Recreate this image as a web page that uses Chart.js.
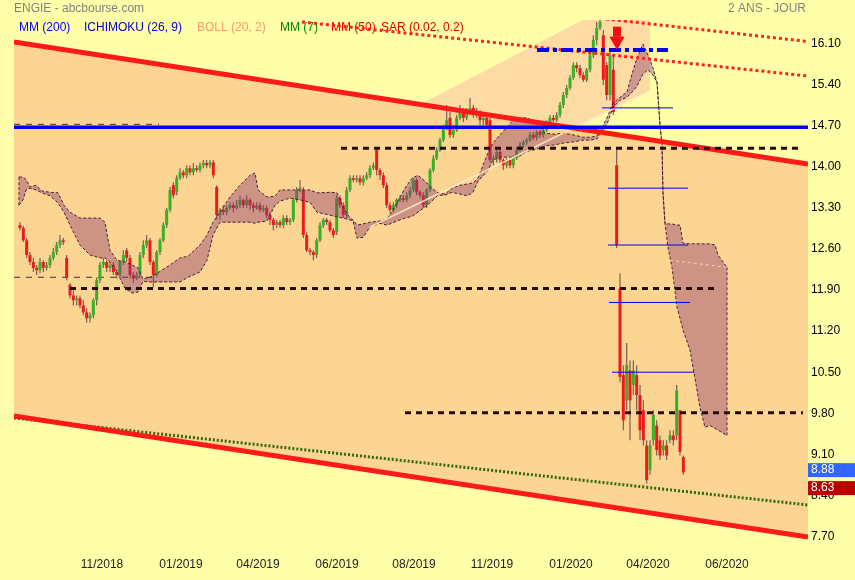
<!DOCTYPE html>
<html>
<head>
<meta charset="utf-8">
<script src="https://cdn.jsdelivr.net/npm/chart.js@4.4.1/dist/chart.umd.min.js"></script>
<style>
  body { margin: 0; background: #ffffaa; }
</style>
</head>
<body>
<canvas id="myChart" width="855" height="580"></canvas>
<script>
// ENGIE daily candles, 2 years, with ichimoku cloud and hand drawn trend lines

const opens = [
  13.01, 12.96, 12.75, 12.50, 12.38, 12.28, 12.24, 12.38, 12.28, 12.33,
  12.45, 12.55, 12.67, 12.75, 12.45, 11.99, 11.81, 11.73, 11.76, 11.64,
  11.52, 11.42, 11.47, 11.73, 12.07, 12.33, 12.38, 12.28, 12.33, 12.21,
  12.16, 12.38, 12.58, 12.45, 12.16, 12.10, 12.16, 12.50, 12.67, 12.75,
  12.38, 12.16, 12.55, 12.75, 13.01, 13.27, 13.69, 13.57, 13.81, 13.91,
  13.86, 13.98, 13.91, 13.98, 13.95, 14.03, 14.07, 14.03, 14.08, 13.66,
  13.18, 13.27, 13.23, 13.30, 13.35, 13.30, 13.35, 13.44, 13.35, 13.44,
  13.35, 13.30, 13.35, 13.27, 13.30, 13.18, 13.10, 13.01, 13.06, 13.01,
  13.13, 13.06, 13.10, 13.44, 13.61, 13.61, 12.84, 12.58, 12.55, 12.50,
  12.75, 13.01, 13.10, 13.06, 12.92, 12.89, 13.47, 13.35, 13.18, 13.61,
  13.81, 13.78, 13.81, 13.74, 13.81, 13.86, 13.98, 14.29, 13.95, 13.86,
  13.69, 13.35, 13.27, 13.35, 13.44, 13.47, 13.44, 13.52, 13.61, 13.78,
  13.57, 13.52, 13.35, 13.61, 13.95, 14.15, 14.29, 14.46, 14.67, 14.84,
  14.55, 14.63, 14.84, 14.97, 14.84, 14.94, 15.01, 14.89, 14.94, 14.80,
  14.84, 14.80, 14.12, 14.15, 14.26, 14.12, 14.03, 14.12, 14.03, 14.15,
  14.29, 14.38, 14.43, 14.46, 14.55, 14.50, 14.60, 14.55, 14.63, 14.77,
  14.84, 14.80, 14.89, 15.06, 15.23, 15.35, 15.52, 15.74, 15.69, 15.57,
  15.49, 15.66, 15.91, 16.17, 16.37, 16.25, 15.74, 15.23, 15.66, 14.03,
  11.93, 10.45, 10.02, 10.53, 10.28, 10.45, 10.11, 9.85, 9.25, 8.83,
  9.34, 9.59, 9.34, 9.17, 9.25, 9.34, 9.42, 9.42, 9.85, 9.05
];
const highs = [
  13.06, 13.00, 12.79, 12.55, 12.45, 12.33, 12.45, 12.41, 12.38, 12.50,
  12.62, 12.72, 12.84, 12.79, 12.50, 12.02, 11.90, 11.81, 11.81, 11.73,
  11.59, 11.52, 11.76, 12.12, 12.38, 12.45, 12.41, 12.38, 12.38, 12.24,
  12.41, 12.58, 12.62, 12.50, 12.21, 12.21, 12.55, 12.75, 12.84, 12.79,
  12.41, 12.58, 12.79, 13.06, 13.30, 13.66, 13.74, 13.86, 13.98, 13.95,
  14.03, 14.03, 14.07, 14.03, 14.08, 14.12, 14.12, 14.12, 14.12, 13.69,
  13.30, 13.35, 13.35, 13.40, 13.40, 13.44, 13.52, 13.47, 13.52, 13.47,
  13.40, 13.40, 13.40, 13.35, 13.35, 13.23, 13.13, 13.10, 13.10, 13.18,
  13.18, 13.13, 13.47, 13.66, 13.78, 13.66, 12.89, 12.62, 12.58, 12.79,
  13.06, 13.13, 13.13, 13.10, 12.96, 13.52, 13.52, 13.40, 13.66, 13.86,
  13.86, 13.86, 13.86, 13.86, 13.91, 14.03, 14.08, 14.34, 13.98, 13.91,
  13.74, 13.40, 13.40, 13.47, 13.52, 13.52, 13.57, 13.66, 13.81, 13.81,
  13.61, 13.57, 13.64, 13.98, 14.20, 14.34, 14.50, 14.72, 15.06, 14.94,
  14.72, 14.89, 15.06, 15.01, 15.01, 15.18, 15.06, 15.01, 14.97, 14.94,
  14.89, 14.84, 14.20, 14.29, 14.29, 14.15, 14.15, 14.15, 14.20, 14.34,
  14.43, 14.46, 14.50, 14.60, 14.60, 14.63, 14.63, 14.67, 14.80, 14.89,
  14.89, 14.94, 15.11, 15.28, 15.40, 15.57, 15.79, 15.79, 15.74, 15.62,
  15.69, 15.96, 16.25, 16.48, 16.60, 16.34, 15.79, 15.96, 15.91, 14.34,
  12.19, 10.62, 11.00, 10.70, 10.70, 10.62, 10.28, 10.02, 9.34, 9.34,
  9.85, 9.68, 9.42, 9.34, 9.34, 9.51, 9.51, 10.28, 9.85, 9.08
];
const lows = [
  12.92, 12.72, 12.45, 12.33, 12.21, 12.16, 12.19, 12.21, 12.24, 12.28,
  12.41, 12.50, 12.62, 12.67, 12.07, 11.76, 11.64, 11.64, 11.59, 11.47,
  11.35, 11.35, 11.42, 11.64, 12.02, 12.28, 12.21, 12.21, 12.16, 12.10,
  12.12, 12.33, 12.38, 12.10, 12.02, 12.07, 12.12, 12.45, 12.62, 12.33,
  11.95, 12.12, 12.50, 12.72, 12.96, 13.23, 13.47, 13.52, 13.78, 13.81,
  13.81, 13.86, 13.86, 13.91, 13.91, 13.98, 13.98, 13.98, 13.81, 13.10,
  13.10, 13.18, 13.18, 13.27, 13.23, 13.27, 13.30, 13.30, 13.30, 13.27,
  13.23, 13.27, 13.23, 13.23, 13.13, 13.01, 12.92, 12.96, 12.96, 12.96,
  13.01, 13.01, 13.06, 13.40, 13.57, 12.79, 12.55, 12.50, 12.41, 12.45,
  12.72, 12.96, 13.01, 12.89, 12.79, 12.84, 13.30, 13.13, 13.13, 13.57,
  13.74, 13.74, 13.69, 13.69, 13.78, 13.81, 13.95, 13.86, 13.78, 13.64,
  13.30, 13.23, 13.23, 13.30, 13.40, 13.40, 13.40, 13.47, 13.57, 13.52,
  13.47, 13.30, 13.30, 13.57, 13.91, 14.12, 14.26, 14.43, 14.63, 14.50,
  14.50, 14.60, 14.80, 14.77, 14.80, 14.89, 14.84, 14.84, 14.72, 14.72,
  14.67, 14.08, 14.03, 14.08, 14.07, 13.95, 13.98, 13.98, 13.98, 14.12,
  14.26, 14.34, 14.38, 14.43, 14.46, 14.46, 14.50, 14.50, 14.60, 14.72,
  14.77, 14.77, 14.84, 15.01, 15.18, 15.31, 15.49, 15.62, 15.52, 15.45,
  15.45, 15.62, 15.86, 16.08, 16.34, 15.40, 15.14, 15.14, 14.89, 12.62,
  10.33, 9.51, 9.85, 9.34, 10.11, 9.85, 9.34, 9.25, 8.60, 8.75,
  9.25, 9.08, 9.00, 9.08, 9.00, 9.29, 9.25, 9.34, 9.08, 8.75
];
const closes = [
  12.96, 12.75, 12.50, 12.38, 12.28, 12.24, 12.38, 12.28, 12.33, 12.45,
  12.55, 12.67, 12.75, 12.72, 12.12, 11.81, 11.73, 11.76, 11.64, 11.52,
  11.42, 11.47, 11.73, 12.07, 12.33, 12.38, 12.28, 12.33, 12.21, 12.16,
  12.38, 12.50, 12.45, 12.16, 12.10, 12.16, 12.50, 12.67, 12.75, 12.38,
  12.16, 12.55, 12.75, 13.01, 13.27, 13.61, 13.52, 13.81, 13.91, 13.86,
  13.98, 13.91, 13.98, 13.95, 14.03, 14.07, 14.03, 14.08, 13.86, 13.18,
  13.27, 13.23, 13.30, 13.35, 13.30, 13.35, 13.44, 13.35, 13.44, 13.35,
  13.30, 13.35, 13.27, 13.30, 13.18, 13.10, 13.01, 13.06, 13.01, 13.13,
  13.06, 13.10, 13.44, 13.61, 13.64, 12.84, 12.58, 12.55, 12.50, 12.75,
  13.01, 13.10, 13.06, 12.92, 12.84, 13.47, 13.35, 13.18, 13.61, 13.81,
  13.78, 13.81, 13.74, 13.81, 13.86, 13.98, 14.03, 13.95, 13.86, 13.69,
  13.35, 13.27, 13.35, 13.44, 13.47, 13.44, 13.52, 13.61, 13.78, 13.57,
  13.52, 13.35, 13.61, 13.95, 14.15, 14.29, 14.46, 14.67, 14.80, 14.55,
  14.63, 14.84, 14.97, 14.84, 14.94, 15.01, 14.89, 14.94, 14.80, 14.84,
  14.72, 14.12, 14.15, 14.26, 14.12, 14.03, 14.12, 14.03, 14.15, 14.29,
  14.38, 14.43, 14.46, 14.55, 14.50, 14.60, 14.55, 14.63, 14.77, 14.84,
  14.80, 14.89, 15.06, 15.23, 15.35, 15.52, 15.74, 15.69, 15.57, 15.49,
  15.66, 15.91, 16.17, 16.37, 16.48, 15.49, 15.23, 15.91, 14.94, 12.67,
  10.42, 9.68, 10.62, 10.02, 10.53, 10.11, 9.51, 9.34, 8.66, 9.25,
  9.77, 9.17, 9.08, 9.25, 9.08, 9.42, 9.34, 10.19, 9.14, 8.79
];

// ichimoku cloud (senkou spans), x in candle units, projected 26 days ahead
const cloudX = [
  -0.3, 0.9, 1.8, 3.0, 4.8, 6.6, 9.0, 11.4, 13.2, 15.0,
  18.0, 21.0, 24.0, 25.5, 27.0, 29.1, 31.5, 33.6, 35.4, 36.9,
  39.0, 42.0, 45.0, 48.0, 50.4, 54.0, 56.1, 57.9, 60.0, 63.0,
  66.0, 69.0, 70.5, 71.4, 74.1, 76.5, 78.0, 81.0, 84.0, 87.0,
  89.1, 93.0, 95.1, 96.9, 99.0, 99.9, 101.1, 102.9, 105.0, 108.0,
  110.1, 113.1, 115.5, 117.6, 119.4, 121.5, 123.6, 125.4, 127.5, 129.6,
  132.0, 134.1, 135.9, 137.4, 138.9, 140.4, 141.9, 144.0, 146.1, 147.9,
  150.0, 152.1, 153.9, 156.0, 157.5, 160.5, 162.9, 165.9, 168.9, 171.0,
  173.1, 174.6, 176.1, 177.9, 180.0, 182.1, 183.6, 185.1, 186.9, 188.4,
  189.9, 191.1, 192.0, 192.6, 192.9, 193.5, 194.4, 195.6, 197.1, 198.0,
  198.9, 201.0, 204.0, 205.5, 207.0, 208.5, 209.4, 210.9, 212.1
];
const cloudTop = [
  13.83, 13.83, 13.79, 13.66, 13.69, 13.59, 13.57, 13.56, 13.35, 13.23,
  13.13, 13.13, 13.13, 13.06, 12.58, 12.41, 12.38, 12.33, 12.28, 12.09,
  12.12, 12.22, 12.33, 12.45, 12.48, 12.67, 12.84, 13.06, 13.23, 13.49,
  13.69, 13.86, 13.90, 13.61, 13.49, 13.50, 13.61, 13.61, 13.61, 13.61,
  13.56, 13.57, 13.56, 13.32, 13.13, 13.10, 13.01, 13.03, 13.06, 13.08,
  13.11, 13.39, 13.64, 13.81, 13.86, 13.76, 13.64, 13.56, 13.54, 13.64,
  13.69, 13.71, 13.73, 13.81, 14.03, 14.24, 14.41, 14.55, 14.68, 14.80,
  14.84, 14.84, 14.79, 14.68, 14.58, 14.56, 14.58, 14.55, 14.51, 14.51,
  14.53, 14.68, 14.84, 15.09, 15.19, 15.28, 15.59, 15.86, 16.10, 15.91,
  15.69, 15.45, 14.72, 14.38, 13.56, 13.04, 13.03, 13.03, 13.01, 13.01,
  12.70, 12.69, 12.69, 12.69, 12.69, 12.67, 12.50, 12.38, 12.29
];
const cloudBottom = [
  13.35, 13.44, 13.61, 13.64, 13.61, 13.56, 13.51, 13.39, 13.23, 13.01,
  12.67, 12.50, 12.45, 12.45, 12.38, 12.21, 11.93, 11.85, 11.87, 12.05,
  12.04, 12.04, 12.04, 12.04, 12.12, 12.21, 12.41, 12.84, 13.06, 13.06,
  13.06, 13.06, 13.04, 13.06, 13.08, 13.35, 13.42, 13.47, 13.44, 13.40,
  13.23, 13.18, 13.15, 13.13, 13.10, 13.08, 12.79, 12.80, 12.98, 13.04,
  13.01, 13.08, 13.13, 13.16, 13.23, 13.32, 13.42, 13.52, 13.52, 13.57,
  13.54, 13.51, 13.57, 13.76, 13.85, 13.95, 14.12, 14.17, 14.17, 14.17,
  14.19, 14.27, 14.29, 14.32, 14.36, 14.38, 14.41, 14.43, 14.46, 14.46,
  14.48, 14.62, 14.73, 15.02, 15.14, 15.19, 15.28, 15.38, 15.59, 15.66,
  15.57, 15.45, 14.72, 14.38, 13.56, 13.04, 12.63, 12.29, 11.61, 11.42,
  11.22, 10.88, 9.90, 9.56, 9.59, 9.54, 9.51, 9.46, 9.42
];

// axis ticks
const dateTickPos = [24.6, 48.3, 71.4, 95.1, 118.2, 141.6, 165.3, 188.4, 212.1];
const dateTickLabels = ['11/2018', '01/2019', '04/2019', '06/2019', '08/2019', '11/2019', '01/2020', '04/2020', '06/2020'];
const priceTicks = [7.70, 8.40, 9.10, 9.80, 10.50, 11.20, 11.90, 12.60, 13.30, 14.00, 14.70, 15.40, 16.10];

// drawn objects, [x, price] end points
const channelTop = [[-1.8, 16.135], [236.4, 14.054]];
const channelBottom = [[-1.8, 9.753], [236.4, 7.687]];
const supportGreen = [[-1.8, 9.719], [236.4, 8.234]];
const bandUpper = [[120.9, 15.094], [189.0, 17.107]];
const bandLower = [[120.9, 13.336], [189.0, 15.307]];
const creamLine = [[105.0, 12.978], [188.4, 15.281]];
const redDotted1 = [[174.0, 16.54], [236.4, 16.143]];
const redDotted2 = [[84.6, 16.476], [236.4, 15.554]];
const blueLevel = [[-1.8, 14.68], [236.4, 14.68]];
const thinDashed1 = [[-1.8, 14.73], [41.7, 14.73]];
const thinDashed2 = [[-1.8, 12.12], [39.9, 12.12]];
const dotted1 = [[96.3, 14.32], [234.0, 14.32]];
const dotted2 = [[15.0, 11.93], [208.5, 11.93]];
const dotted3 = [[115.5, 9.81], [234.9, 9.81]];
const dashDot = [[155.1, 16.00], [194.4, 16.00]];
const fibLines = [
  [[174.6, 15.01], [195.9, 15.01]],
  [[176.4, 13.64], [200.4, 13.64]],
  [[176.4, 12.67], [200.4, 12.67]],
  [[176.7, 11.69], [201.0, 11.69]],
  [[177.6, 10.50], [202.2, 10.50]]
];
const cloudPale = [[195.0, 12.41], [212.1, 12.29]];
const arrowAt = [179.1, 16.15];
const arrowShaft = [179.1, 16.31];
const tagValues = [8.88, 8.63];
const tagColors = ['#3366ff', '#bb0000'];

const yellow = '#ffffaa';
const orange = '#fcd592';
const upColor = '#36b024';
const downColor = '#ee1a1a';
const font = "'Liberation Sans', Arial, sans-serif";

function pts(arr) {
  return arr.map(p => ({ x: p[0], y: p[1] }));
}

function lineSet(arr, color, width, dash, order) {
  return {
    type: 'line',
    data: pts(arr),
    borderColor: color,
    borderWidth: width,
    borderDash: dash || [],
    pointRadius: 0,
    fill: false,
    tension: 0,
    order: order
  };
}

let wickData = lows.map((l, i) => ({ x: i, y: [l, highs[i]] }));
let bodyData = opens.map((o, i) => ({ x: i, y: [o, closes[i]] }));
let cloudTopData = cloudX.map((x, k) => ({ x: x, y: cloudTop[k] }));
let cloudBottomData = cloudX.map((x, k) => ({ x: x, y: cloudBottom[k] }));

const datasets = [
  // light rising band, under everything
  lineSet(bandLower, 'transparent', 0, null, 100),
  Object.assign(lineSet(bandUpper, 'transparent', 0, null, 100), { fill: '-1', backgroundColor: '#fddba2' }),
  // big descending channel fill
  lineSet(channelBottom, 'transparent', 0, null, 90),
  Object.assign(lineSet(channelTop, 'transparent', 0, null, 90), { fill: '-1', backgroundColor: orange }),
  lineSet(supportGreen, '#2e6b00', 3, [2, 2], 80),
  lineSet(thinDashed1, '#4a2a2a', 1, [6, 6], 70),
  lineSet(thinDashed2, '#4a2a2a', 1, [6, 6], 70),
  {
    type: 'bar',
    data: wickData,
    backgroundColor: '#765a5a',
    grouped: false,
    barPercentage: 0.35,
    categoryPercentage: 1,
    clip: 0,
    order: 60
  },
  {
    type: 'bar',
    data: bodyData,
    backgroundColor: c => {
      const d = c.raw;
      return d && d.y[1] >= d.y[0] ? upColor : downColor;
    },
    grouped: false,
    barPercentage: 0.9,
    categoryPercentage: 1,
    minBarLength: 1,
    clip: 0,
    order: 50
  },
  // cloud
  {
    type: 'line', data: cloudBottomData, borderColor: '#4a2030', borderWidth: 1, borderDash: [3, 2],
    pointRadius: 0, fill: false, tension: 0, order: 40
  },
  {
    type: 'line', data: cloudTopData, borderColor: '#4a2030', borderWidth: 1, borderDash: [3, 2],
    pointRadius: 0, fill: '-1', backgroundColor: 'rgba(135,50,118,0.4)', tension: 0, order: 40
  },
  lineSet([[cloudX[0], cloudTop[0]], [cloudX[0], cloudBottom[0]]], '#4a2030', 1, [3, 2], 40),
  lineSet([[cloudX[cloudX.length - 1], cloudTop[cloudTop.length - 1]], [cloudX[cloudX.length - 1], cloudBottom[cloudBottom.length - 1]]], '#4a2030', 1, [3, 2], 40),
  lineSet(cloudPale, 'rgba(255,230,190,0.8)', 1, [3, 3], 36),
  lineSet(creamLine, 'rgba(255,236,200,0.85)', 1.5, null, 35),
  lineSet(channelTop, '#ff1a1a', 5, null, 30),
  lineSet(channelBottom, '#ff1a1a', 5, null, 30),
  lineSet(blueLevel, '#0000ee', 3.5, null, 25)
];

fibLines.forEach(f => datasets.push(lineSet(f, '#0000ff', 1, null, 24)));

datasets.push(
  lineSet(dotted1, '#2a0a0a', 3, [6, 5], 20),
  lineSet(dotted2, '#2a0a0a', 3, [6, 5], 20),
  lineSet(dotted3, '#2a0a0a', 3, [6, 5], 20),
  lineSet(redDotted1, '#ff2020', 3, [3, 3], 15),
  lineSet(redDotted2, '#ff2020', 3, [3, 3], 15),
  lineSet(dashDot, '#0000ff', 4, [12, 4, 4, 4], 10),
  {
    type: 'line', data: pts([arrowShaft]), showLine: false, pointStyle: 'line', rotation: 90,
    pointRadius: 5, pointBorderColor: '#ee1111', pointBorderWidth: 8, order: 5
  },
  {
    type: 'line', data: pts([arrowAt]), showLine: false, pointStyle: 'triangle', rotation: 180,
    pointRadius: 8, pointBackgroundColor: '#ee1111', pointBorderColor: '#ee1111', pointBorderWidth: 1, order: 5
  }
);

// background, header texts and last price tags
const decorations = {
  id: 'decorations',
  beforeDraw(chart) {
    const c = chart.ctx;
    c.save();
    c.fillStyle = yellow;
    c.fillRect(0, 0, chart.width, chart.height);
    c.restore();
  },
  beforeDatasetsDraw(chart) {
    const c = chart.ctx;
    c.save();
    c.font = '12px ' + font;
    c.textBaseline = 'middle';
    c.fillStyle = '#808080';
    c.textAlign = 'left';
    c.fillText('ENGIE - abcbourse.com', 14, 9);
    c.textAlign = 'right';
    c.fillText('2 ANS - JOUR', 806, 9);
    c.textAlign = 'left';
    const legend = [
      ['MM (200)', '#0000ff', 19],
      ['ICHIMOKU (26, 9)', '#0000cc', 84],
      ['BOLL (20, 2)', '#ff9966', 197],
      ['MM (7)', '#008800', 280],
      ['MM (50)', '#ff0000', 331],
      ['SAR (0.02, 0.2)', '#dd0000', 381]
    ];
    legend.forEach(l => {
      c.fillStyle = l[1];
      c.fillText(l[0], l[2], 28);
    });
    c.restore();
  },
  afterDraw(chart) {
    const c = chart.ctx;
    const yScale = chart.scales.y;
    const left = chart.chartArea.right;
    let lastBottom = -Infinity;
    c.save();
    c.font = '12px ' + font;
    c.textBaseline = 'middle';
    c.textAlign = 'left';
    tagValues.forEach((v, k) => {
      let top = yScale.getPixelForValue(v) - 4;
      if (top < lastBottom + 4) top = lastBottom + 4;
      c.fillStyle = tagColors[k];
      c.fillRect(left, top, 47, 14);
      c.fillStyle = '#ffffff';
      c.fillText(v.toFixed(2), left + 3, top + 7);
      lastBottom = top + 14;
    });
    c.restore();
  }
};

const ctx = document.getElementById('myChart').getContext('2d');
const myChart = new Chart(ctx, {
  type: 'bar',
  data: { datasets: datasets },
  plugins: [decorations],
  options: {
    responsive: false,
    animation: false,
    events: [],
    layout: { padding: { left: 14, top: 20, right: 0, bottom: 0 } },
    plugins: {
      legend: { display: false },
      tooltip: { enabled: false }
    },
    scales: {
      x: {
        type: 'linear',
        min: -1.8,
        max: 236.4,
        offset: false,
        grid: { display: false, drawTicks: false },
        border: { display: false },
        afterBuildTicks: s => { s.ticks = dateTickPos.map(v => ({ value: v })); },
        afterFit: s => { s.height = 32; },
        ticks: {
          autoSkip: false,
          maxRotation: 0,
          padding: 9,
          color: '#222222',
          font: { family: font, size: 12 },
          callback: (v, i) => dateTickLabels[i]
        }
      },
      y: {
        position: 'right',
        min: 7.5,
        max: 16.51,
        beginAtZero: false,
        grid: { display: false, drawTicks: false },
        border: { display: false },
        afterBuildTicks: s => { s.ticks = priceTicks.map(v => ({ value: v })); },
        afterFit: s => { s.width = 47; },
        ticks: {
          autoSkip: false,
          padding: 3,
          color: '#000000',
          font: { family: font, size: 12 },
          callback: v => v.toFixed(2)
        }
      }
    }
  }
});
</script>
</body>
</html>
